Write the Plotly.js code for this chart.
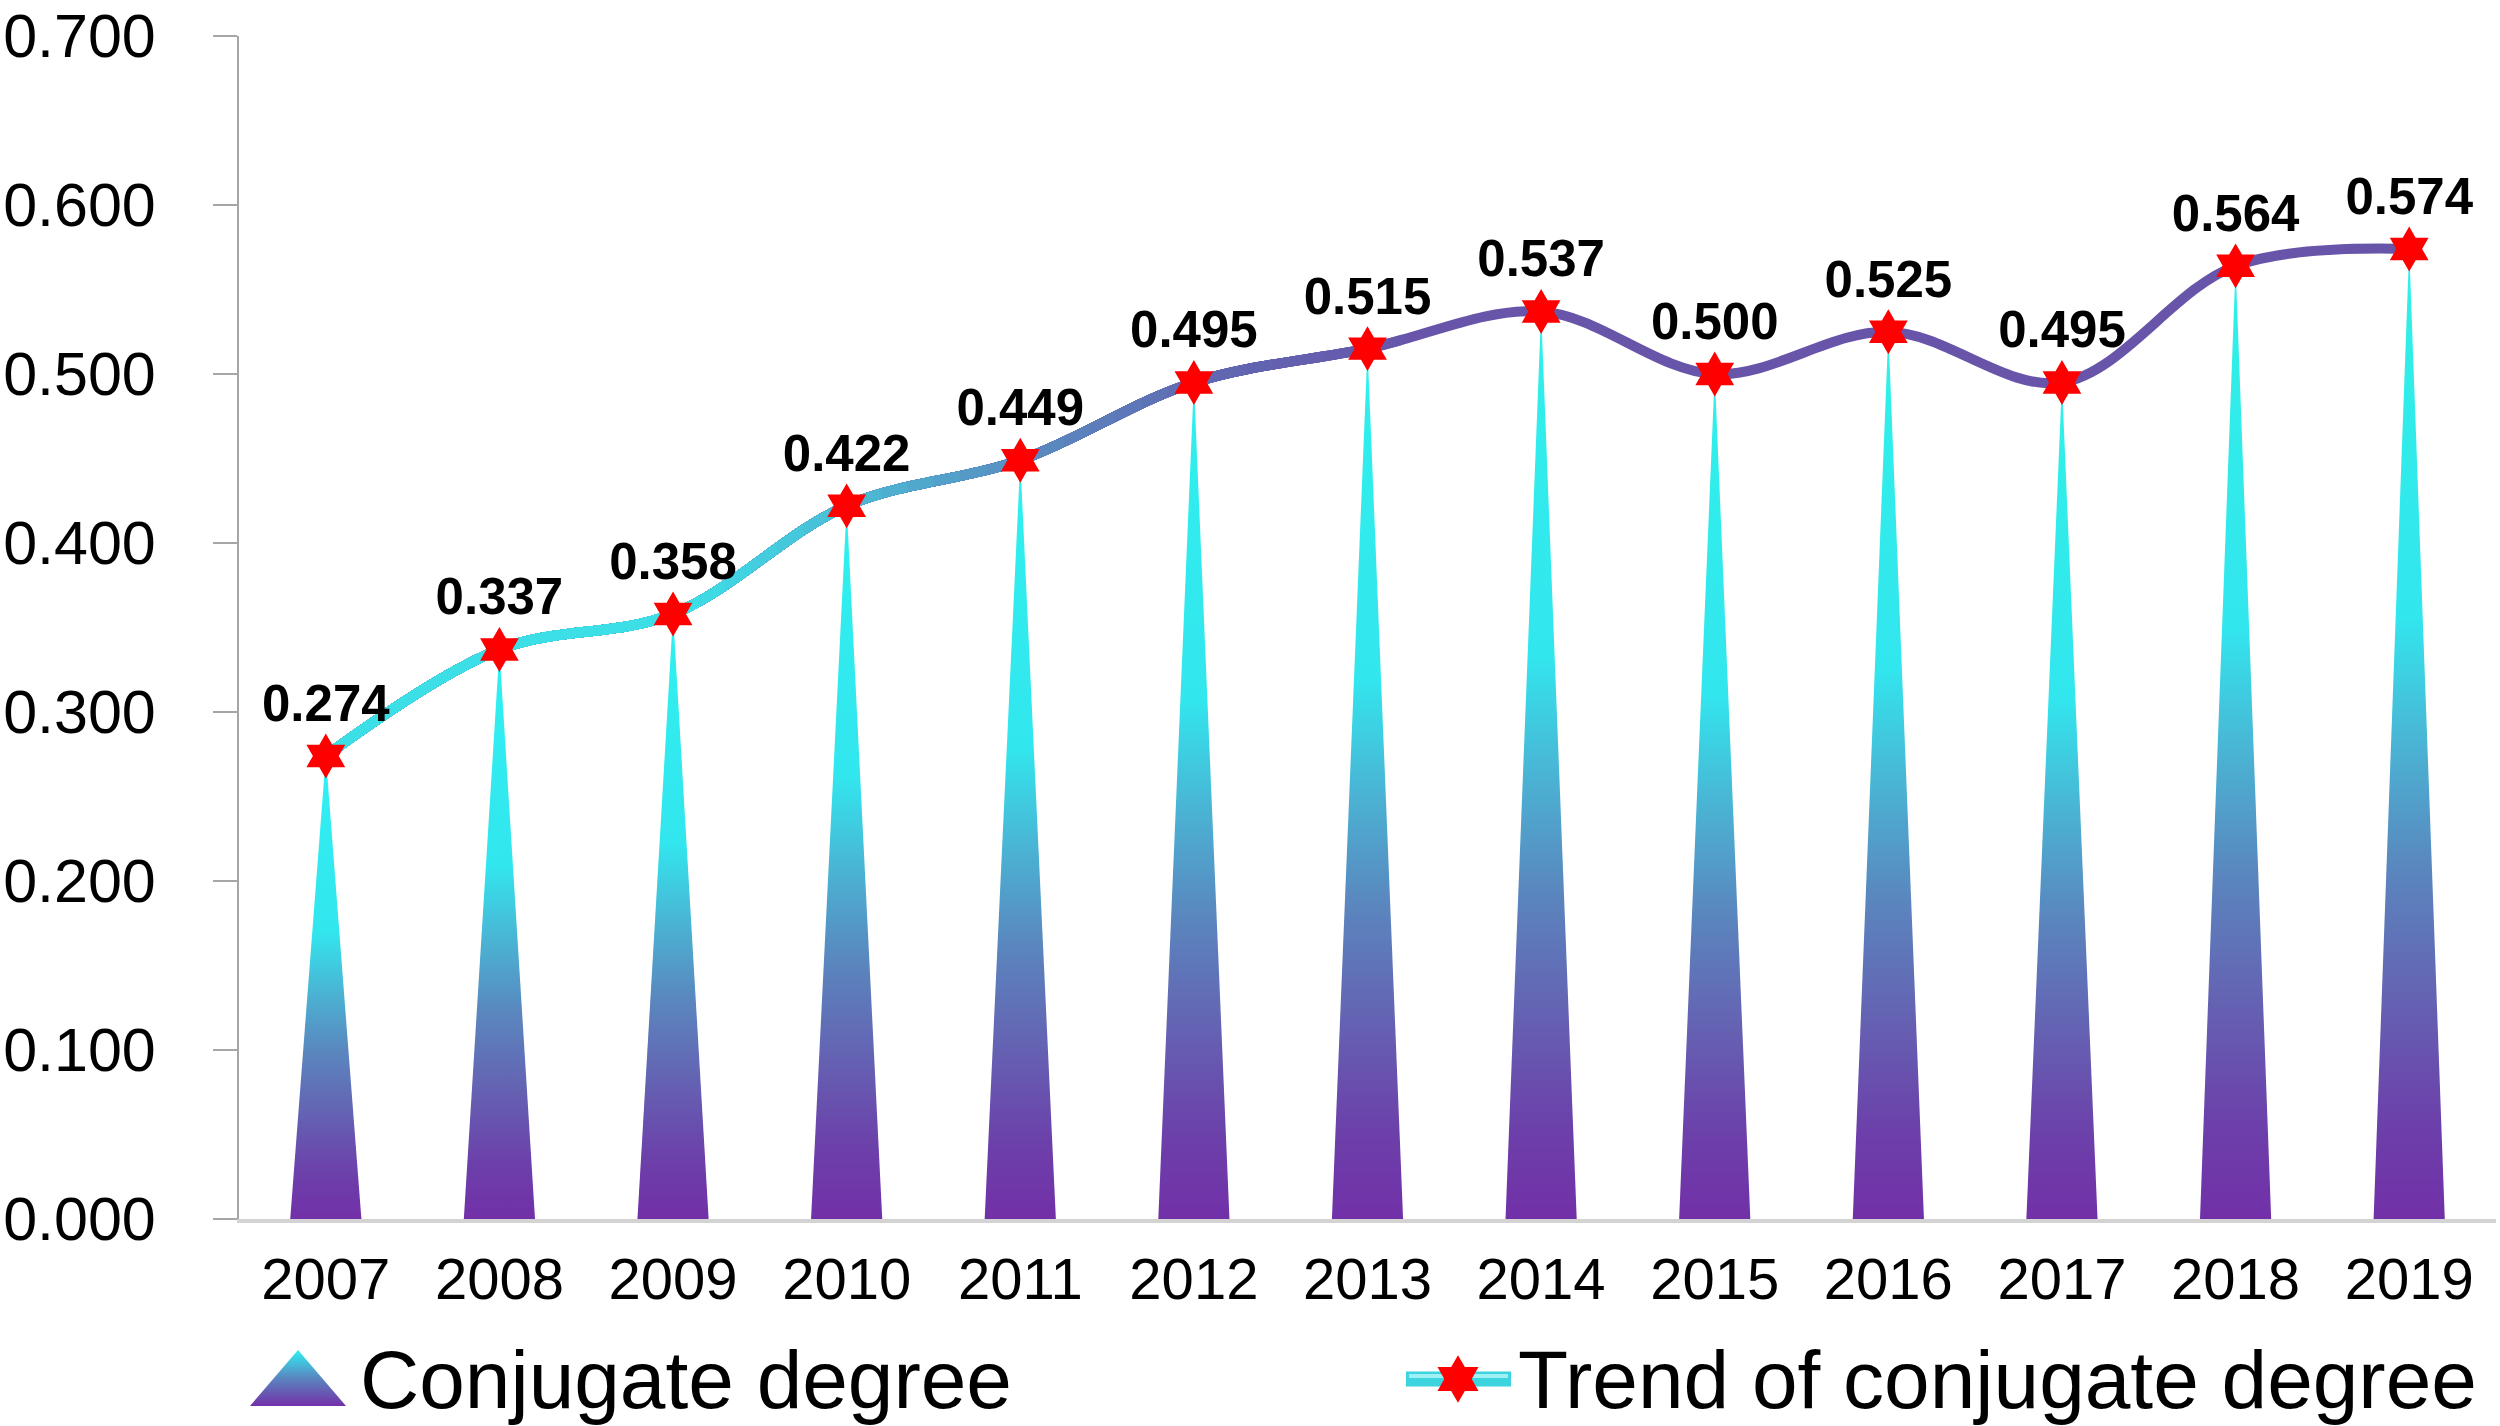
<!DOCTYPE html>
<html>
<head>
<meta charset="utf-8">
<script src="https://cdn.plot.ly/plotly-3.0.1.min.js"></script>
<style>
  html, body { margin: 0; padding: 0; background: #ffffff; }
  #chart { width: 2500px; height: 1426px; }
</style>
</head>
<body>
<div id="chart"></div>
<script>
// ---------------- data ----------------
const years = ['2007','2008','2009','2010','2011','2012','2013','2014','2015','2016','2017','2018','2019'];
const conjugateDegree = [0.274, 0.337, 0.358, 0.422, 0.449, 0.495, 0.515, 0.537, 0.500, 0.525, 0.495, 0.564, 0.574];
const yTickValues = [0, 0.1, 0.2, 0.3, 0.4, 0.5, 0.6, 0.7];
const legendLabels = ['Conjugate degree', 'Trend of conjugate degree'];

// ---------------- layout / style constants ----------------
const W = 2500, H = 1426;
const plotL = 239, plotR = 2496, plotT = 36, plotB = 1219;
const FONT = 'Liberation Sans, Arial, sans-serif';
const idx = years.map((_, i) => i);
const xMin = -0.5, xMax = years.length - 0.5;
const yMax = 0.7;
const spikeHalf = 0.205;
function spikeScale(i) {
  return [
    [0.00, '#7230a8'],
    [0.10, '#6c40aa'],
    [0.22, '#6560b2'],
    [0.36, '#5a86be'],
    [0.49, '#4ab4d4'],
    [0.62, '#32e6ee'],
    [1.00, 'rgb(48,240,' + (242 - i) + ')']
  ];
}
// colour of the trend line along the x axis (category index -> colour)
const lineColourStops = [
  [2.0, [61, 223, 231]],
  [3.0, [75, 184, 212]],
  [4.0, [90, 138, 192]],
  [5.0, [96, 104, 178]],
  [6.2, [104, 85, 170]]
];
function colourAt(x) {
  const s = lineColourStops;
  if (x <= s[0][0]) return s[0][1];
  for (let k = 1; k < s.length; k++) {
    if (x <= s[k][0]) {
      const t = (x - s[k - 1][0]) / (s[k][0] - s[k - 1][0]);
      return s[k - 1][1].map((c, j) => Math.round(c + t * (s[k][1][j] - c)));
    }
  }
  return s[s.length - 1][1];
}
const rgb = c => 'rgb(' + c.join(',') + ')';
const xToPx = x => plotL + (x - xMin) / (xMax - xMin) * (plotR - plotL);

const traces = [];
const layout = {
  width: W, height: H,
  paper_bgcolor: '#ffffff', plot_bgcolor: 'rgba(0,0,0,0)',
  margin: { l: 0, r: 0, t: 0, b: 0, pad: 0 },
  showlegend: false,
  font: { family: FONT, color: '#000000' },
  xaxis: {
    domain: [plotL / W, plotR / W],
    range: [xMin, xMax],
    tickmode: 'array', tickvals: idx, ticktext: years,
    tickfont: { family: FONT, size: 58, color: '#000000' },
    ticks: '', ticklabelstandoff: 6, ticklabeloverflow: 'allow',
    showgrid: false, zeroline: false,
    showline: true, linecolor: '#d3d3d3', linewidth: 4,
    fixedrange: true
  },
  yaxis: {
    domain: [(H - plotB) / H, (H - plotT) / H],
    range: [0, yMax],
    tickmode: 'array', tickvals: yTickValues,
    ticktext: yTickValues.map(v => v.toFixed(3)),
    tickfont: { family: FONT, size: 61, color: '#000000' },
    ticks: 'outside', ticklen: 24, tickwidth: 2, tickcolor: '#a6a6a6',
    ticklabelstandoff: 45, ticklabeloverflow: 'allow',
    showgrid: false, zeroline: false,
    showline: true, linecolor: '#a6a6a6', linewidth: 2,
    fixedrange: true
  },
  xaxis2: { domain: [0, 1], range: [0, W], visible: false, anchor: 'y2', fixedrange: true },
  yaxis2: { domain: [0, (H - plotB) / H], range: [0, H - plotB], visible: false, anchor: 'x2', fixedrange: true },
  annotations: []
};

// main subplot: carries the visible axes (points present but not drawn)
traces.push({
  type: 'scatter', xaxis: 'x', yaxis: 'y',
  x: idx, y: conjugateDegree, mode: 'markers',
  marker: { opacity: 0, size: 1 },
  hoverinfo: 'skip', showlegend: false
});

let axisNo = 3;
// hidden x axis identical to the main one (each gets its own subplot layer)
function addFullAxis() {
  const id = axisNo++;
  layout['xaxis' + id] = {
    domain: [plotL / W, plotR / W], range: [xMin, xMax],
    visible: false, anchor: 'y', fixedrange: true
  };
  return 'x' + id;
}

// spikes (gradient triangles), each on its own layer with its own gradient
idx.forEach(i => {
  traces.push({
    type: 'scatter', xaxis: addFullAxis(), yaxis: 'y',
    x: [i - spikeHalf, i, i + spikeHalf],
    y: [0, conjugateDegree[i], 0],
    mode: 'lines', fill: 'toself',
    line: { width: 0, color: 'rgba(0,0,0,0)' },
    fillgradient: { type: 'vertical', colorscale: spikeScale(i), start: 0, stop: conjugateDegree[i] },
    hoverinfo: 'skip', showlegend: false
  });
});

// trend line: full spline in purple, then the same spline re-drawn on
// subplots clipped at decreasing x limits to build a cyan -> purple gradient
traces.push({
  type: 'scatter', xaxis: addFullAxis(), yaxis: 'y',
  x: idx, y: conjugateDegree, mode: 'lines',
  line: { shape: 'spline', smoothing: 1, width: 10, color: rgb(colourAt(99)) },
  hoverinfo: 'skip', showlegend: false
});
const cuts = [];
for (let c = 6.2; c >= 2.0 - 1e-9; c -= 0.15) cuts.push(+c.toFixed(3));
cuts.forEach(c => {
  const id = axisNo++;
  layout['xaxis' + id] = {
    domain: [plotL / W, xToPx(c) / W], range: [xMin, c],
    visible: false, anchor: 'y', fixedrange: true
  };
  traces.push({
    type: 'scatter', xaxis: 'x' + id, yaxis: 'y',
    x: idx, y: conjugateDegree, mode: 'lines',
    line: { shape: 'spline', smoothing: 1, width: 10, color: rgb(colourAt(c - 0.15)) },
    hoverinfo: 'skip', showlegend: false
  });
});

// stars + value labels on the top-most layer
traces.push({
  type: 'scatter', xaxis: addFullAxis(), yaxis: 'y',
  x: idx, y: conjugateDegree,
  mode: 'markers+text', cliponaxis: false,
  marker: { symbol: 'hexagram', size: 34, color: '#ff0000', line: { width: 0 } },
  texttemplate: '%{y:.3f}',
  textposition: 'top center',
  textfont: { family: FONT, size: 51, color: '#000000', weight: 'bold' },
  name: legendLabels[1], showlegend: false
});

// ---------------- custom legend (icons on a pixel-unit overlay axis) ----------------
const legY = H - 1379;
traces.push({
  type: 'scatter', xaxis: 'x2', yaxis: 'y2',
  x: [250, 298, 346], y: [legY - 27, legY + 29, legY - 27],
  mode: 'lines', fill: 'toself',
  line: { width: 0, color: 'rgba(0,0,0,0)' },
  fillgradient: { type: 'vertical', start: legY - 27, stop: legY + 29,
                  colorscale: [[0, '#7230a8'], [0.5, '#5a86c0'], [1, '#30f0f2']] },
  hoverinfo: 'skip', showlegend: false
});
traces.push({
  type: 'scatter', xaxis: 'x2', yaxis: 'y2',
  x: [1406, 1511], y: [legY, legY],
  mode: 'lines', line: { width: 15, color: '#3cd4de' },
  hoverinfo: 'skip', showlegend: false
});
traces.push({
  type: 'scatter', xaxis: 'x2', yaxis: 'y2',
  x: [1409, 1508], y: [legY + 3, legY + 3],
  mode: 'lines', line: { width: 4, color: '#9ff0f4' },
  hoverinfo: 'skip', showlegend: false
});
traces.push({
  type: 'scatter', xaxis: 'x2', yaxis: 'y2',
  x: [1458], y: [legY],
  mode: 'markers', marker: { symbol: 'hexagram', size: 36, color: '#ff0000', line: { width: 0 } },
  hoverinfo: 'skip', showlegend: false
});
layout.annotations.push(
  { xref: 'paper', yref: 'paper', x: 358 / W, y: legY / H, xanchor: 'left', yanchor: 'middle',
    text: legendLabels[0], showarrow: false, font: { family: FONT, size: 82, color: '#000000' } },
  { xref: 'paper', yref: 'paper', x: 1516 / W, y: legY / H, xanchor: 'left', yanchor: 'middle',
    text: legendLabels[1], showarrow: false, font: { family: FONT, size: 82, color: '#000000' } }
);

Plotly.newPlot('chart', traces, layout, { displayModeBar: false, staticPlot: true });
</script>
</body>
</html>
